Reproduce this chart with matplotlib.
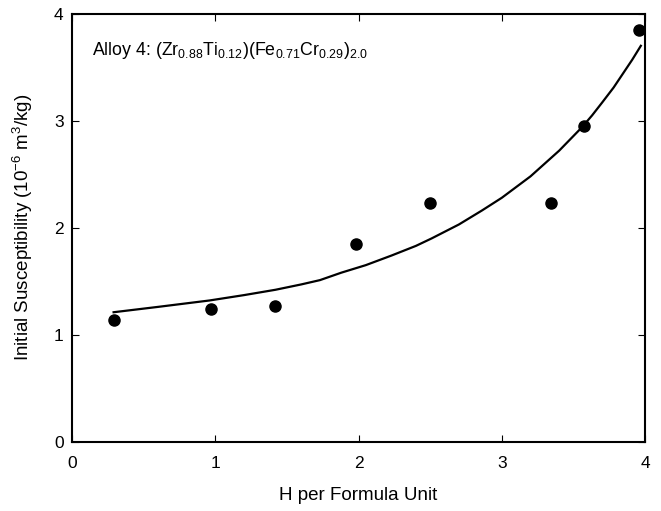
import matplotlib
matplotlib.use("Agg")
import matplotlib.pyplot as plt

plt.rcParams["font.family"] = ["Liberation Sans", "DejaVu Sans"]
plt.rcParams["mathtext.fontset"] = "custom"
plt.rcParams["mathtext.rm"] = "Liberation Sans"
plt.rcParams["mathtext.default"] = "regular"

# measured points
h_meas = [0.29, 0.97, 1.42, 1.98, 2.50, 3.34, 3.575, 3.96]
chi_meas = [1.14, 1.24, 1.27, 1.85, 2.23, 2.23, 2.95, 3.85]

# fitted curve
h_fit = [0.29, 0.60, 0.96, 1.20, 1.42, 1.60, 1.73, 1.88, 2.05, 2.23, 2.40, 2.51, 2.70, 2.86, 3.00,
         3.10, 3.20, 3.30, 3.40, 3.48, 3.56, 3.63, 3.70, 3.78, 3.85, 3.91, 3.97]
chi_fit = [1.21, 1.26, 1.32, 1.37, 1.42, 1.47, 1.51, 1.58, 1.65, 1.74, 1.83, 1.90, 2.03, 2.16, 2.28,
           2.38, 2.48, 2.60, 2.72, 2.83, 2.94, 3.05, 3.17, 3.31, 3.45, 3.57, 3.70]

fig = plt.figure(figsize=(6.61, 5.11), dpi=100)
ax = fig.add_axes([0.109, 0.1356, 0.867, 0.8376])

ax.plot(h_fit, chi_fit, color="black", lw=1.6)
ax.plot(h_meas, chi_meas, "o", color="black", ms=8, clip_on=False)

ax.set_xlim(0, 4); ax.set_ylim(0, 4)
ax.set_xticks([0, 1, 2, 3, 4]); ax.set_yticks([0, 1, 2, 3, 4])
ax.tick_params(direction="in", top=True, right=True, length=5, width=0.8,
               labelsize=12.5)
ax.tick_params(axis="x", pad=10)
ax.tick_params(axis="y", pad=6)
for s in ax.spines.values():
    s.set_linewidth(1.5)

ax.set_xlabel("H per Formula Unit", fontsize=13.5, labelpad=12)
ax.set_ylabel("Initial Susceptibility (10$^{-6}$ m$^{3}$/kg)", fontsize=13.5, labelpad=14)
ax.text(0.035, 0.915, "Alloy 4: (Zr$_{0.88}$Ti$_{0.12}$)(Fe$_{0.71}$Cr$_{0.29}$)$_{2.0}$",
        transform=ax.transAxes, fontsize=12.8, va="center")

fig.savefig("out.png", dpi=100)
